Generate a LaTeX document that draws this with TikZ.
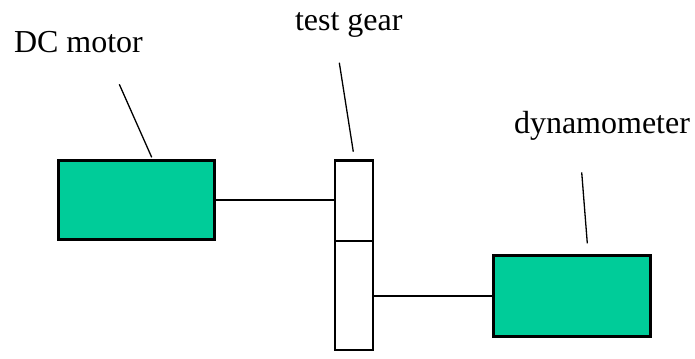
\documentclass[tikz,border=0pt]{standalone}
\usepackage{fontspec}
\setmainfont{Liberation Serif}
\definecolor{boxgreen}{RGB}{0,204,153}
\begin{document}
\begin{tikzpicture}[x=1bp, y=-1bp,
  unit/.style={draw=black, line width=2.4bp, fill=boxgreen, inner sep=0pt, outer sep=0pt},
  gearpart/.style={draw=black, line width=2.2bp, fill=white, inner sep=0pt, outer sep=0pt,
    minimum width=38bp},
  shaft/.style={draw=black, line width=1.8bp},
  leader/.style={draw=black, line width=1.3bp},
  caption/.style={inner sep=0pt, outer sep=0pt, anchor=base west,
    font=\fontsize{32bp}{38bp}\selectfont}]
  \useasboundingbox (0,0) rectangle (695,358);

  % machines and the gear pair
  \node[unit, minimum width=156bp, minimum height=79bp] (motor) at (136.5,200) {};
  \node[gearpart, minimum height=80.5bp] (gearA) at (354,200.75) {};
  \node[gearpart, minimum height=109bp] (gearB) at (354,295.5) {};
  \node[unit, minimum width=157bp, minimum height=81bp] (dyno) at (572,296) {};

  % shafts
  \draw[shaft] (motor.east) -- (motor.east -| gearA.west);
  \draw[shaft] (gearB.east |- dyno.west) -- (dyno.west);

  % captions
  \node[caption] (tmotor) at (14,52.3) {DC motor};
  \node[caption] (tgear) at (295,30) {test gear};
  \node[caption] (tdyno) at (514,133) {dynamometer};

  % leader lines
  \coordinate (lm1) at (119.3,84.3);
  \coordinate (lm2) at (151.7,157.3);
  \coordinate (lg1) at (339.3,62.7);
  \coordinate (lg2) at (353.3,151.7);
  \coordinate (ld1) at (581.7,172.3);
  \coordinate (ld2) at (587.3,243.3);
  \draw[leader] (lm1) -- (lm2);
  \draw[leader] (lg1) -- (lg2);
  \draw[leader] (ld1) -- (ld2);
\end{tikzpicture}
\end{document}
